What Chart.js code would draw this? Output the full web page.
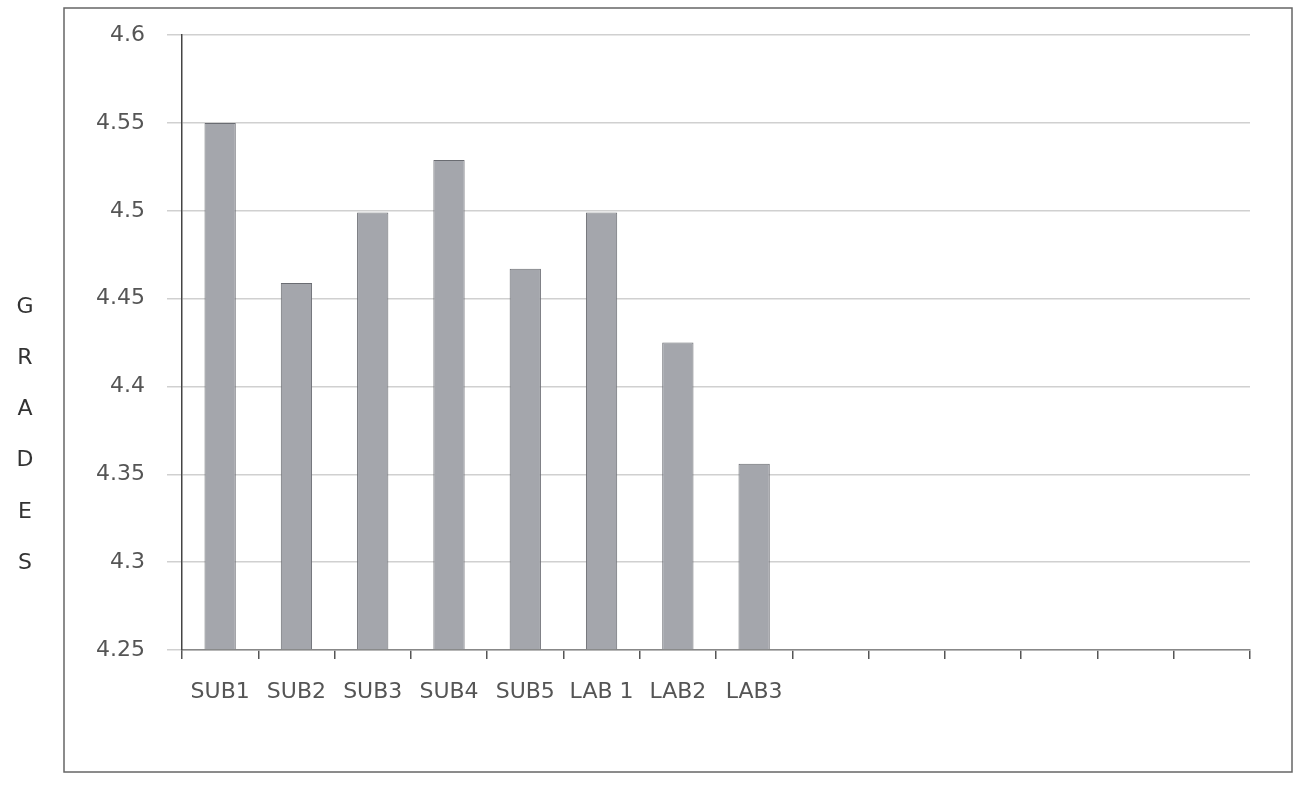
<!DOCTYPE html>
<html>
<head>
<meta charset="utf-8">
<script src="https://cdn.jsdelivr.net/npm/chart.js@4"></script>
<style>
  body { margin: 0; background: #fff; }
</style>
</head>
<body>
<canvas id="gradesChart" width="1299" height="792"></canvas>
<script>
// categories (14 slots on the axis, only 8 used)
const subjects = ['SUB1', 'SUB2', 'SUB3', 'SUB4', 'SUB5', 'LAB 1', 'LAB2', 'LAB3', '', '', '', '', '', ''];
const grades = [4.55, 4.459, 4.499, 4.529, 4.467, 4.499, 4.425, 4.356, null, null, null, null, null, null];
const gradeTicks = [4.25, 4.3, 4.35, 4.4, 4.45, 4.5, 4.55, 4.6];
const axisTitle = ['G', 'R', 'A', 'D', 'E', 'S'];

// frame round the chart + vertical "GRADES" letters
const framePlugin = {
    id: 'frame',
    afterDraw(chart) {
        const ctx = chart.ctx;
        ctx.save();
        ctx.strokeStyle = '#666';
        ctx.lineWidth = 1.5;
        ctx.strokeRect(64, 8, 1228, 764);
        ctx.fillStyle = '#333';
        ctx.font = '22px "DejaVu Sans"';
        ctx.textAlign = 'center';
        ctx.textBaseline = 'middle';
        axisTitle.forEach((ch, i) => ctx.fillText(ch, 25, 307 + i * 51.2));
        ctx.restore();
    }
};

const gradesChart = document.getElementById('gradesChart').getContext('2d');
const chart = new Chart(gradesChart, {
    type: 'bar',
    data: {
        labels: subjects,
        datasets: [{
            label: 'Grades',
            data: grades,
            base: gradeTicks[0],
            backgroundColor: '#a4a6ac',
            borderColor: '#6a6c72',
            borderWidth: 1,
            barPercentage: 0.41,
            categoryPercentage: 1
        }]
    },
    options: {
        responsive: false,
        animation: false,
        layout: { padding: { top: 32, right: 49, bottom: 0, left: 0 } },
        plugins: {
            legend: { display: false },
            tooltip: { enabled: false }
        },
        scales: {
            x: {
                afterFit: (scale) => { scale.height = 142; },
                grid: {
                    offset: true,
                    drawOnChartArea: false,
                    tickLength: 9,
                    color: '#555',
                    lineWidth: 1.5
                },
                border: { color: '#888', width: 1.5 },
                ticks: {
                    color: '#555',
                    font: { family: 'DejaVu Sans', size: 22 },
                    padding: 20,
                    maxRotation: 0,
                    autoSkip: false
                }
            },
            y: {
                min: gradeTicks[0],
                max: gradeTicks[gradeTicks.length - 1],
                afterFit: (scale) => { scale.width = 182; },
                afterBuildTicks: (scale) => { scale.ticks = gradeTicks.map(v => ({ value: v })); },
                grid: {
                    color: '#d0d0d0',
                    lineWidth: 1.5,
                    tickLength: 15
                },
                border: { color: '#444', width: 1.5 },
                ticks: {
                    color: '#555',
                    font: { family: 'DejaVu Sans', size: 22 },
                    padding: 22,
                    callback: (v) => String(Math.round(v * 100) / 100)
                }
            }
        }
    },
    plugins: [framePlugin]
});
</script>
</body>
</html>
